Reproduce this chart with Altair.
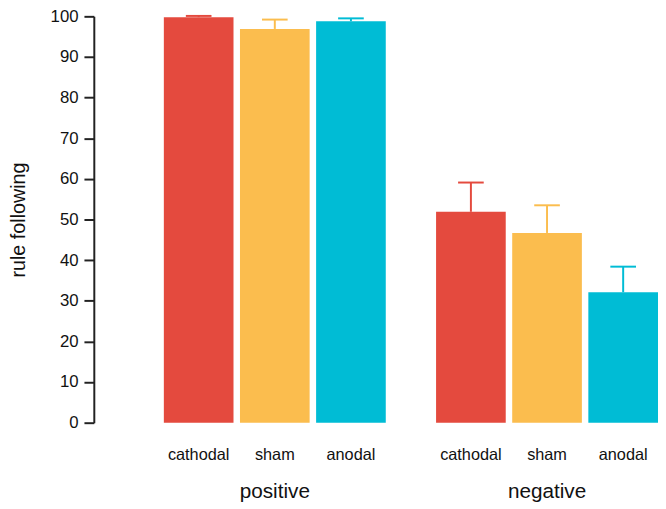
import altair as alt
import pandas as pd

# data
groups = ["positive", "positive", "positive", "negative", "negative", "negative"]
conditions = ["cathodal", "sham", "anodal", "cathodal", "sham", "anodal"]
means = [99.8, 96.9, 98.8, 51.9, 46.7, 32.1]
uppers = [100.1, 99.2, 99.5, 59.1, 53.5, 38.4]

cond_order = ["cathodal", "sham", "anodal"]
group_order = ["positive", "negative"]
colors = ["#E44A3E", "#FBBD4E", "#00BCD5"]
y_ticks = [0, 10, 20, 30, 40, 50, 60, 70, 80, 90, 100]

FONT = "Liberation Sans"

df = pd.DataFrame({"group": groups, "condition": conditions,
                   "mean": means, "upper": uppers})

x = alt.X("condition:N", sort=cond_order,
          scale=alt.Scale(paddingInner=0.085, paddingOuter=0),
          axis=alt.Axis(title=None, labelAngle=0, domain=False, ticks=False,
                        labelFontSize=16.5, labelPadding=24, labelColor="#111",
                        labelFont=FONT))

y_axis = alt.Axis(title="rule following", values=y_ticks, offset=71,
                  domainColor="#222", domainWidth=2, tickColor="#222",
                  tickWidth=2, tickSize=10, labelFontSize=17, labelPadding=6,
                  labelColor="#111", labelFont=FONT, titleFont=FONT,
                  titleFontSize=20, titleFontWeight="normal", titleColor="#111",
                  titlePadding=22, grid=False)
y_scale = alt.Scale(domain=[0, 100], nice=False, zero=True)

color = alt.Color("condition:N", scale=alt.Scale(domain=cond_order, range=colors),
                  legend=None)

bars = alt.Chart().mark_bar().encode(
    x=x, y=alt.Y("mean:Q", scale=y_scale, axis=y_axis), color=color)
rules = alt.Chart().mark_rule(strokeWidth=2).encode(
    x=x, y=alt.Y("mean:Q", scale=y_scale, axis=y_axis), y2="upper:Q", color=color)
caps = alt.Chart().mark_tick(size=26, thickness=2, opacity=1).encode(
    x=x, y=alt.Y("upper:Q", scale=y_scale, axis=y_axis), color=color)

layer = alt.layer(bars, rules, caps, data=df).properties(width=225, height=412)

chart = layer.facet(
    column=alt.Column("group:N", sort=group_order,
                      header=alt.Header(title=None, labelOrient="bottom",
                                        labelFontSize=21, labelPadding=19,
                                        labelFont=FONT, labelColor="#111")),
    spacing=51,
).configure_view(stroke=None).properties(
    padding={"left": 0, "top": -4, "right": 0, "bottom": 0})

chart.save("out.html", embed_options={"renderer": "svg", "actions": False})
